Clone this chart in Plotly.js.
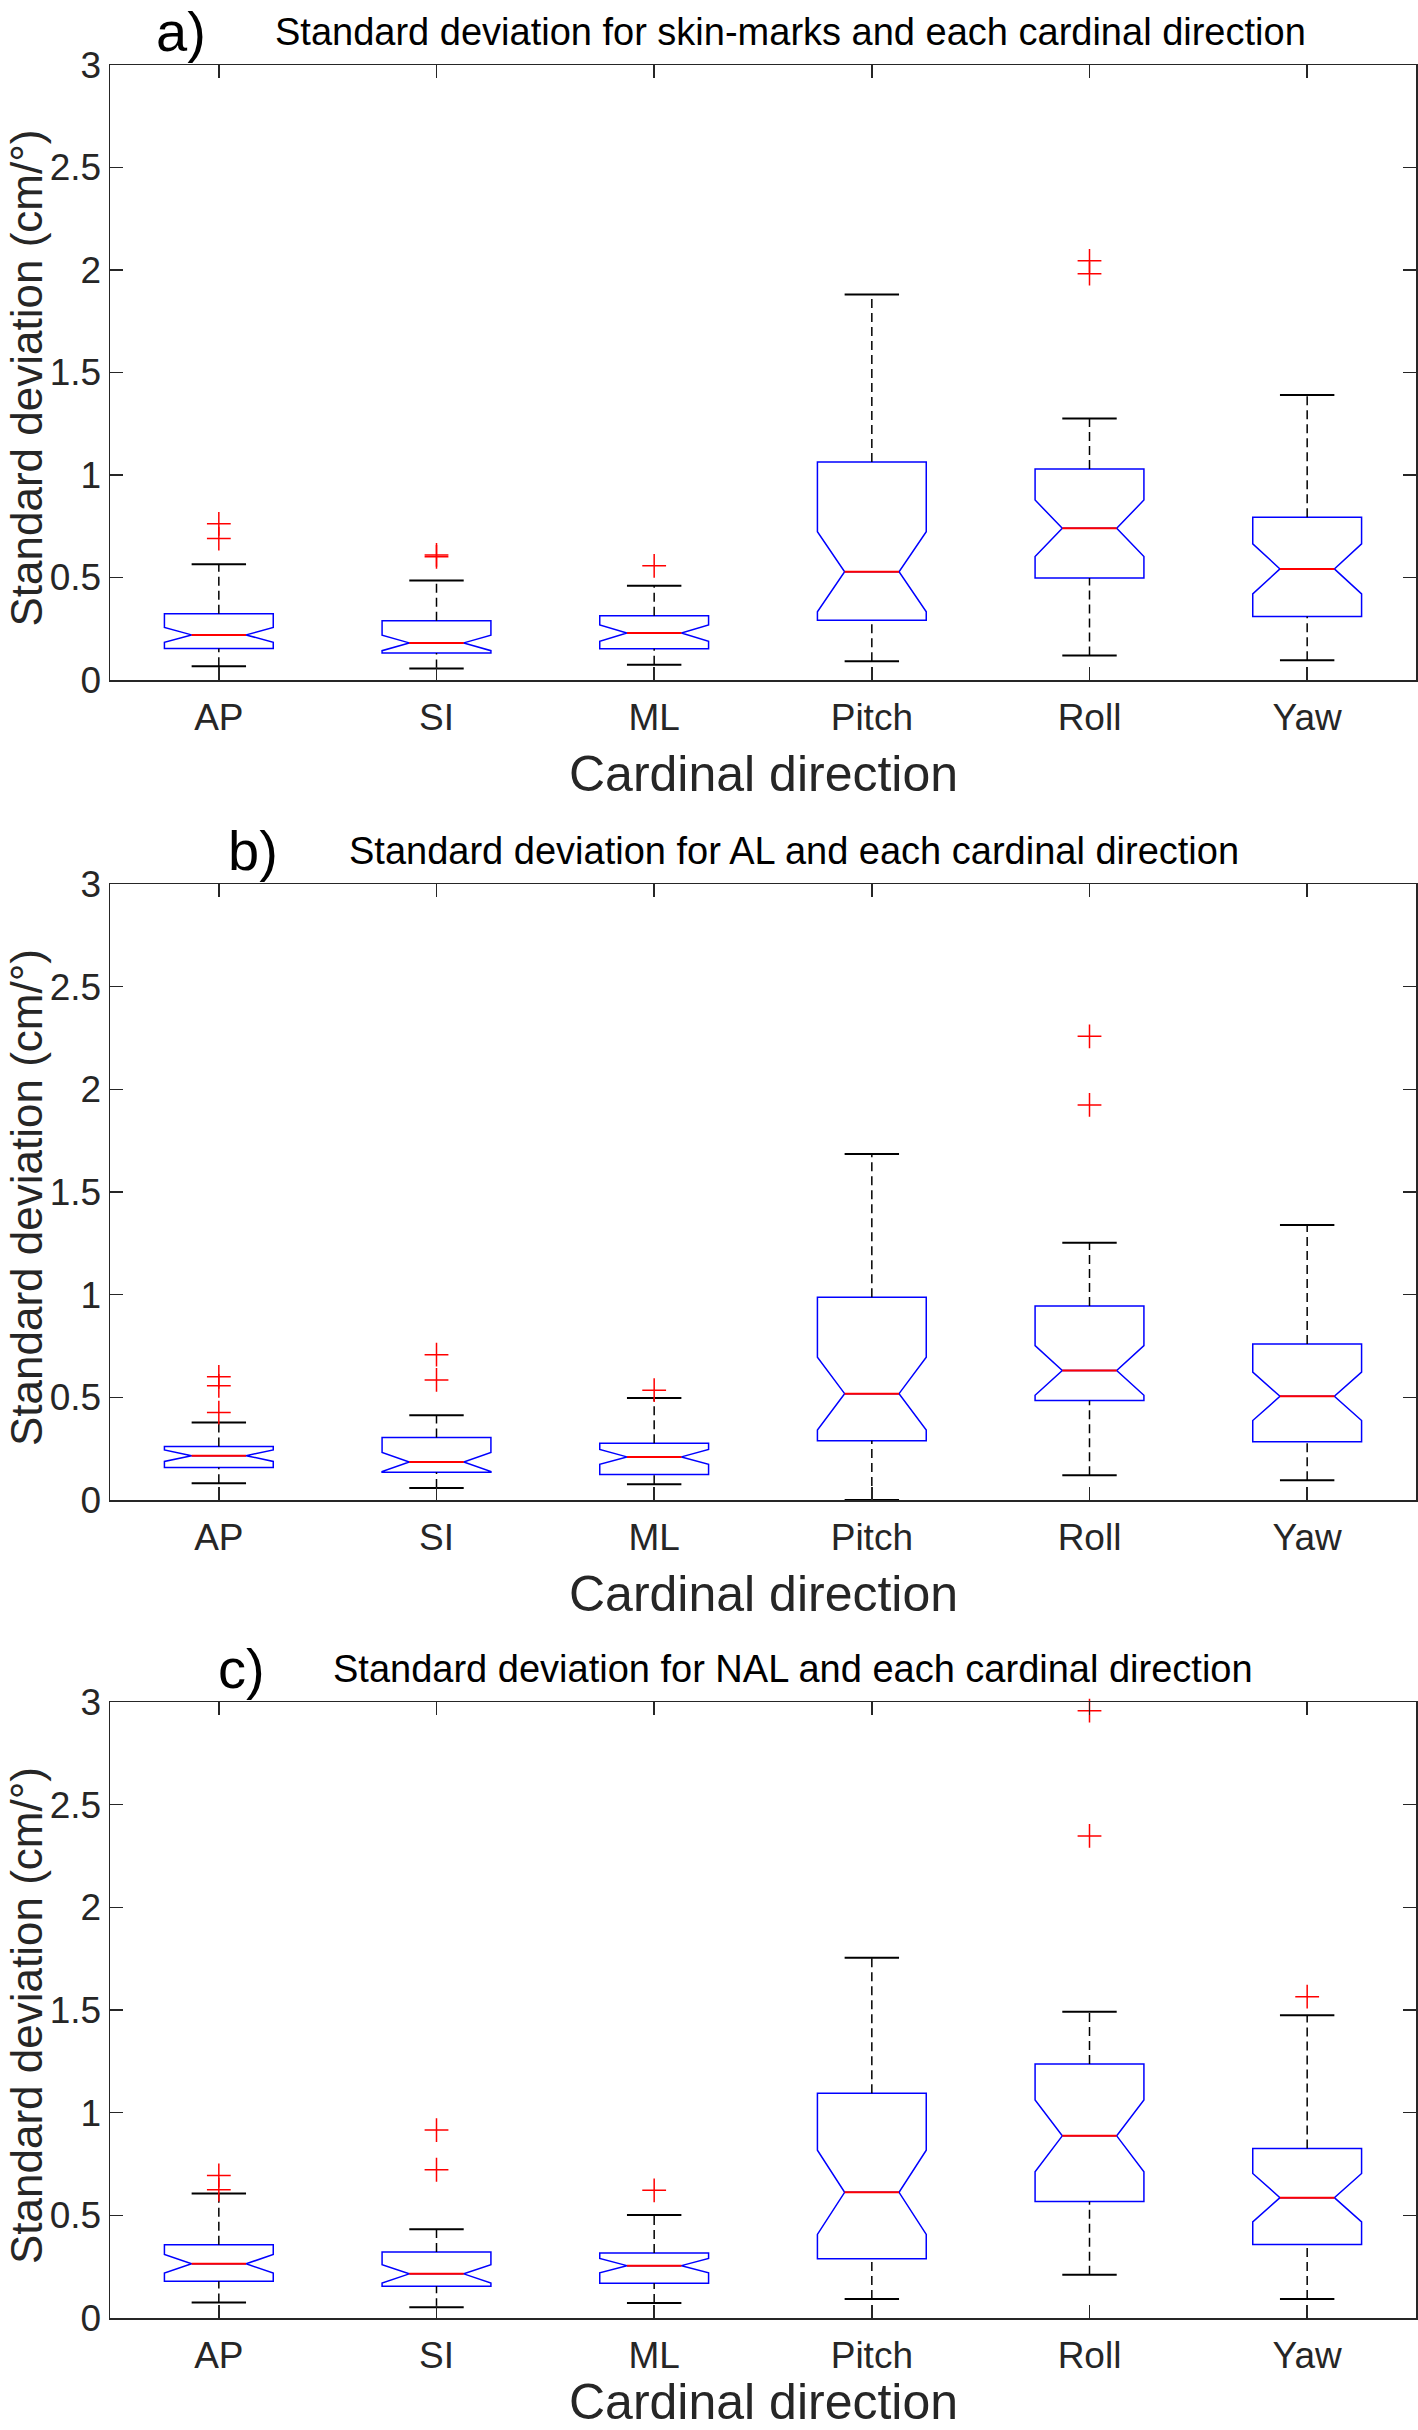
<!DOCTYPE html>
<html>
<head>
<meta charset="utf-8">
<script src="https://cdn.plot.ly/plotly-3.0.1.min.js"></script>
<style>
  html, body { margin: 0; padding: 0; background: #ffffff; }
  #chart { width: 1418px; height: 2430px; }
</style>
</head>
<body>
<div id="chart"></div>
<script>
// ---------------- data ----------------
const categories = ['AP', 'SI', 'ML', 'Pitch', 'Roll', 'Yaw'];
const panelLabels = ['a)', 'b)', 'c)'];
const panelTitles = [
  'Standard deviation for skin-marks and each cardinal direction',
  'Standard deviation for AL and each cardinal direction',
  'Standard deviation for NAL and each cardinal direction'
];
const xAxisTitle = 'Cardinal direction';
const yAxisTitle = 'Standard deviation (cm/°)';
const yTickVals = [0, 0.5, 1, 1.5, 2, 2.5, 3];
const yTickText = ['0', '0.5', '1', '1.5', '2', '2.5', '3'];

// a) skin-marks
const lowA    = [0.067, 0.056, 0.074, 0.091, 0.120, 0.096];
const q1A     = [0.154, 0.132, 0.153, 0.291, 0.498, 0.310];
const medianA = [0.220, 0.181, 0.229, 0.528, 0.740, 0.542];
const q3A     = [0.323, 0.289, 0.313, 1.063, 1.029, 0.794];
const highA   = [0.565, 0.485, 0.460, 1.880, 1.276, 1.390];
const notchA  = [0.036, 0.038, 0.040, 0.195, 0.138, 0.122];
const outCatA = ['AP', 'AP', 'SI', 'SI', 'ML', 'Roll', 'Roll'];
const outValA = [0.690, 0.762, 0.601, 0.610, 0.557, 1.982, 2.045];

// b) AL
const lowB    = [0.081, 0.058, 0.077, 0.000, 0.120, 0.096];
const q1B     = [0.158, 0.135, 0.124, 0.289, 0.485, 0.284];
const medianB = [0.216, 0.185, 0.210, 0.518, 0.631, 0.505];
const q3B     = [0.261, 0.305, 0.277, 0.987, 0.945, 0.760];
const highB   = [0.377, 0.413, 0.497, 1.685, 1.253, 1.339];
const notchB  = [0.028, 0.046, 0.036, 0.177, 0.121, 0.118];
const outCatB = ['AP', 'AP', 'AP', 'SI', 'SI', 'ML', 'Roll', 'Roll'];
const outValB = [0.426, 0.556, 0.600, 0.585, 0.708, 0.535, 1.924, 2.258];

// c) NAL
const lowC    = [0.075, 0.052, 0.073, 0.093, 0.211, 0.093];
const q1C     = [0.179, 0.155, 0.169, 0.288, 0.567, 0.358];
const medianC = [0.264, 0.215, 0.255, 0.612, 0.887, 0.586];
const q3C     = [0.357, 0.322, 0.316, 1.095, 1.237, 0.825];
const highC   = [0.606, 0.432, 0.502, 1.755, 1.491, 1.475];
const notchC  = [0.045, 0.045, 0.035, 0.205, 0.175, 0.118];
const outCatC = ['AP', 'AP', 'SI', 'SI', 'ML', 'Roll', 'Roll', 'Yaw'];
const outValC = [0.625, 0.694, 0.722, 0.915, 0.622, 2.348, 2.958, 1.565];

// ---------------- style ----------------
const FONT = 'Liberation Sans, Arial, Helvetica, sans-serif';
const AXC = '#262626';
const BOX_BLUE = '#0000ff';
const capHalf = 0.125;     // half width of whisker caps / median (category units)

const panels = [
  {low: lowA, q1: q1A, med: medianA, q3: q3A, high: highA, notch: notchA, oc: outCatA, ov: outValA,
   labelX: 0.0544, titleX: 0.5207, dom: [0.72703, 1.0], xtShift: -94},
  {low: lowB, q1: q1B, med: medianB, q3: q3B, high: highB, notch: notchB, oc: outCatB, ov: outValB,
   labelX: 0.1095, titleX: 0.5237, dom: [0.36307, 0.63648], xtShift: -94},
  {low: lowC, q1: q1C, med: medianC, q3: q3C, high: highC, notch: notchC, oc: outCatC, ov: outValC,
   labelX: 0.1010, titleX: 0.5233, dom: [0.0, 0.27341], xtShift: -84}
];

const idx = categories.map((c, i) => i);
const traces = [];
const annotations = [];
const layout = {
  width: 1418, height: 2430,
  margin: {l: 110, r: 2, t: 65, b: 112, pad: 0},
  paper_bgcolor: '#ffffff', plot_bgcolor: '#ffffff',
  showlegend: false,
  font: {family: FONT, color: AXC},
  annotations: annotations
};

panels.forEach((p, k) => {
  const xa = k === 0 ? 'x' : 'x' + (k + 1);
  const ya = k === 0 ? 'y' : 'y' + (k + 1);

  // notched boxes (whiskers drawn separately, MATLAB style)
  traces.push({
    type: 'box', xaxis: xa, yaxis: ya,
    x: idx, q1: p.q1, median: p.med, q3: p.q3,
    lowerfence: p.low, upperfence: p.high, notchspan: p.notch,
    notched: true, notchwidth: 0.25, width: 0.5,
    showwhiskers: false, whiskerwidth: 0,
    boxpoints: false,
    line: {color: BOX_BLUE, width: 1.5},
    fillcolor: 'rgba(0,0,0,0)',
    hoverinfo: 'skip'
  });

  // dashed whiskers, solid caps, red medians
  const wx = [], wy = [];
  const cx = [], cy = [];
  const mx = [], my = [];
  idx.forEach(i => {
    wx.push(i, i, null, i, i, null);
    wy.push(p.low[i], p.q1[i], null, p.q3[i], p.high[i], null);
    cx.push(i - capHalf, i + capHalf, null, i - capHalf, i + capHalf, null);
    cy.push(p.low[i], p.low[i], null, p.high[i], p.high[i], null);
    mx.push(i - capHalf, i + capHalf, null);
    my.push(p.med[i], p.med[i], null);
  });
  traces.push({type: 'scatter', mode: 'lines', xaxis: xa, yaxis: ya, x: wx, y: wy,
    line: {color: '#000000', width: 1.5, dash: '9px,5px'}, hoverinfo: 'skip', cliponaxis: false});
  traces.push({type: 'scatter', mode: 'lines', xaxis: xa, yaxis: ya, x: cx, y: cy,
    line: {color: '#000000', width: 2}, hoverinfo: 'skip', cliponaxis: false});
  traces.push({type: 'scatter', mode: 'lines', xaxis: xa, yaxis: ya, x: mx, y: my,
    line: {color: '#ff0000', width: 2}, hoverinfo: 'skip'});
  // outliers
  traces.push({type: 'scatter', mode: 'markers', xaxis: xa, yaxis: ya,
    x: p.oc.map(c => categories.indexOf(c)), y: p.ov,
    marker: {symbol: 'cross-thin-open', size: 17, line: {color: '#ff0000', width: 1.5}, color: '#ff0000'},
    hoverinfo: 'skip', cliponaxis: false});

  const axCommon = {
    ticks: 'inside', ticklen: 13, tickwidth: 1.5, tickcolor: AXC,
    showline: true, linecolor: AXC, linewidth: 1.5, mirror: 'ticks',
    showgrid: false, zeroline: false,
    tickfont: {size: 37, family: FONT, color: AXC}
  };
  layout['xaxis' + (k === 0 ? '' : k + 1)] = Object.assign({}, axCommon, {
    anchor: ya, domain: [0, 1], range: [-0.5, 5.5],
    tickmode: 'array', tickvals: idx, ticktext: categories,
    ticklabelstandoff: 4
  });
  layout['yaxis' + (k === 0 ? '' : k + 1)] = Object.assign({}, axCommon, {
    anchor: xa, domain: p.dom, range: [0, 3],
    tickmode: 'array', tickvals: yTickVals, ticktext: yTickText
  });

  const xd = xa + ' domain', yd = ya + ' domain';
  annotations.push({text: panelLabels[k], xref: xd, yref: yd, x: p.labelX, y: 1,
    xanchor: 'center', yanchor: 'middle', yshift: 33.5, showarrow: false,
    font: {size: 56, family: FONT, color: '#000000'}});
  annotations.push({text: panelTitles[k], xref: xd, yref: yd, x: p.titleX, y: 1,
    xanchor: 'center', yanchor: 'middle', yshift: 33, showarrow: false,
    font: {size: 38, family: FONT, color: '#000000'}});
  annotations.push({text: xAxisTitle, xref: xd, yref: yd, x: 0.5, y: 0,
    xanchor: 'center', yanchor: 'middle', yshift: p.xtShift, showarrow: false,
    font: {size: 50, family: FONT, color: AXC}});
  annotations.push({text: yAxisTitle, xref: 'paper', yref: yd, x: -0.0643, y: 0.5,
    xanchor: 'center', yanchor: 'middle', yshift: -6, textangle: -90, showarrow: false,
    font: {size: 44, family: FONT, color: AXC}});
});

Plotly.newPlot('chart', traces, layout, {displayModeBar: false, staticPlot: true});
</script>
</body>
</html>
